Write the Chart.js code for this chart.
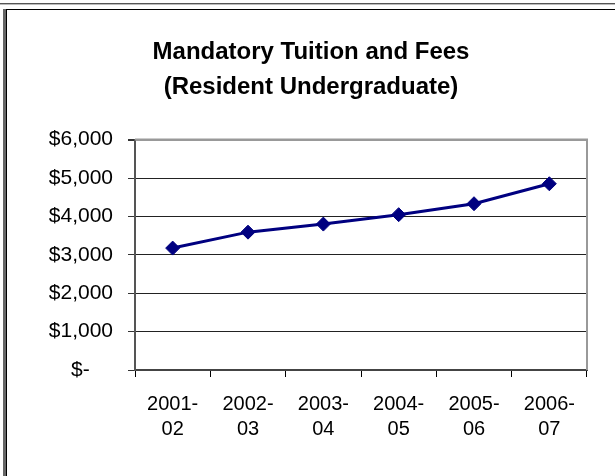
<!DOCTYPE html>
<html>
<head>
<meta charset="utf-8">
<script src="https://cdn.jsdelivr.net/npm/chart.js@4"></script>
<style>
    html, body { margin: 0; padding: 0; background: #fff; }
    .wrap { position: relative; width: 615px; height: 476px; overflow: hidden; }
    canvas { position: absolute; left: 0; top: 0; }
    .top-line { position: absolute; left: 0; top: 3px; width: 615px; height: 1px; background: #555; border-bottom: 1px solid #bbb; }
    .frame { position: absolute; left: 3px; top: 9px; width: 700px; height: 600px; border-left: 3px solid #666; }
    .frame-inner { position: absolute; left: 0; top: 0; right: 0; bottom: 0; border-left: 1px solid #000; border-top: 1px solid #000; }
</style>
</head>
<body>
<div class="wrap">
    <canvas id="tuitionChart" width="615" height="476"></canvas>
    <div class="top-line"></div>
    <div class="frame"><div class="frame-inner"></div></div>
</div>
<script>
const titleLines = ['Mandatory Tuition and Fees', '(Resident Undergraduate)'];
const years = [['2001-', '02'], ['2002-', '03'], ['2003-', '04'], ['2004-', '05'], ['2005-', '06'], ['2006-', '07']];
const tuition = [3175, 3590, 3800, 4045, 4330, 4850];
const yTicks = [0, 1000, 2000, 3000, 4000, 5000, 6000];

const fontFamily = '"Liberation Sans", Arial, sans-serif';

// gray frame round the plot area, like the Excel one
const plotBorder = {
    id: 'plotBorder',
    beforeDatasetsDraw(chart) {
        const {ctx, chartArea} = chart;
        ctx.save();
        ctx.strokeStyle = '#999';
        ctx.lineWidth = 2;
        ctx.beginPath();
        ctx.moveTo(chartArea.left, chartArea.top);
        ctx.lineTo(chartArea.right, chartArea.top);
        ctx.lineTo(chartArea.right, chartArea.bottom);
        ctx.stroke();
        ctx.restore();
    }
};

new Chart(document.getElementById('tuitionChart'), {
    type: 'line',
    data: {
        labels: years,
        datasets: [{
            data: tuition,
            borderColor: '#000080',
            borderWidth: 3,
            backgroundColor: '#000080',
            pointStyle: 'rectRot',
            pointRadius: 7,
            pointBorderWidth: 1,
            pointBackgroundColor: '#000080',
            pointBorderColor: '#000080',
            tension: 0
        }]
    },
    options: {
        responsive: false,
        animation: false,
        events: [],
        layout: { padding: { left: 7, right: 0, top: 0, bottom: 0 } },
        plugins: {
            legend: { display: false },
            tooltip: { enabled: false },
            title: {
                display: true,
                text: titleLines,
                color: '#000',
                font: { family: fontFamily, size: 24, weight: 'bold', lineHeight: 1.45 },
                padding: { top: 35, bottom: 35 }
            }
        },
        scales: {
            x: {
                offset: true,
                grid: {
                    offset: true,
                    drawOnChartArea: false,
                    tickLength: 7,
                    tickColor: '#000',
                    lineWidth: 1
                },
                border: { color: '#444', width: 2 },
                ticks: {
                    color: '#000',
                    padding: 15,
                    maxRotation: 0,
                    autoSkip: false,
                    font: { family: fontFamily, size: 20, lineHeight: 1.25 }
                },
                afterFit(scale) { scale.height = 106; }
            },
            y: {
                min: 0,
                max: 6000,
                afterBuildTicks(scale) { scale.ticks = yTicks.map(v => ({value: v})); },
                grid: {
                    color: ctx => ctx.tick && ctx.tick.value === 6000 ? '#999' : '#222',
                    lineWidth: ctx => ctx.tick && ctx.tick.value === 6000 ? 2 : 1,
                    tickLength: 7,
                    tickColor: '#333'
                },
                border: { color: '#555', width: 2 },
                ticks: {
                    color: '#000',
                    padding: 15,
                    font: { family: fontFamily, size: 21 },
                    callback: v => v === 0 ? '$-    ' : '$' + v.toLocaleString('en-US')
                },
                afterFit(scale) { scale.width = 128; }
            },
            // empty right side space so the title centres like the original
            yRight: {
                position: 'right',
                grid: { display: false },
                border: { display: false },
                ticks: { display: false },
                afterFit(scale) { scale.width = 28; }
            }
        }
    },
    plugins: [plotBorder]
});
</script>
</body>
</html>
